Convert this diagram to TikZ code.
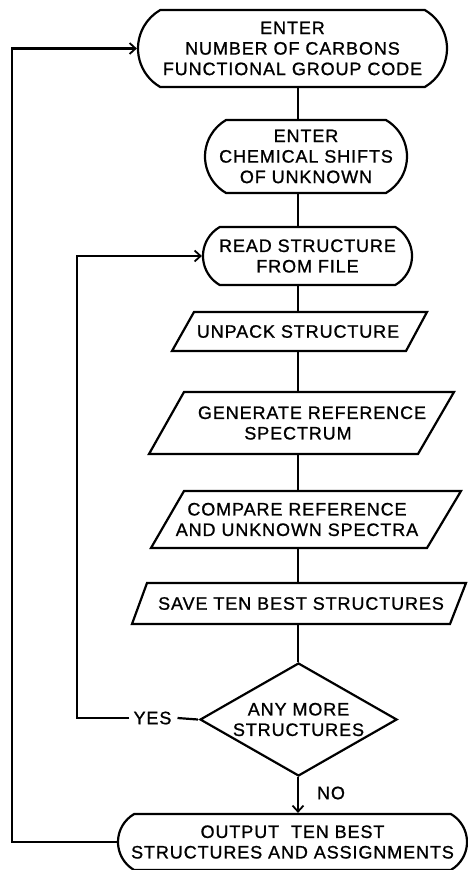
\documentclass[tikz,border=0pt]{standalone}
\usepackage{fontspec}
\setmainfont{Liberation Sans}[LetterSpace=5,FakeBold=1]
\usetikzlibrary{shapes.misc,shapes.geometric,arrows.meta,calc}
\begin{document}
\begin{tikzpicture}[x=1pt,y=-1pt,line width=2.2pt,
  every node/.style={font=\fontsize{18}{20.5}\selectfont,align=center,inner sep=0pt},
  term/.style={draw,rounded rectangle,rounded rectangle arc length=120},
  para/.style={},
  dec/.style={draw,diamond,aspect=1.74},
  arr/.style={-{Straight Barb[length=6pt,width=11pt,line width=1.8pt]}}]
\useasboundingbox (0,0) rectangle (468,870);
\coordinate (spine) at (298,0);
\coordinate (loopA) at (12,0);
\coordinate (loopB) at (77,0);
% terminals
\node[term,minimum width=309,minimum height=77] (n1) at (292.5,48.5) {ENTER\\NUMBER OF CARBONS\\FUNCTIONAL GROUP CODE};
\node[term,minimum width=202,minimum height=73] (n2) at (306,156.5) {ENTER\\CHEMICAL SHIFTS\\OF UNKNOWN};
\node[term,minimum width=209,minimum height=58] (n3) at (307.5,256) {READ STRUCTURE\\FROM FILE};
% parallelograms
\node[para,minimum height=39] (p1) at (298,331.5) {UNPACK STRUCTURE};
\draw ($(p1)+(-104,-19.5)$) -- ($(p1)+(129,-19.5)$) -- ($(p1)+(108,19.5)$) -- ($(p1)+(-126,19.5)$) -- cycle;
\node[para,minimum height=62] (p2) at (298,423) {\hspace*{28pt}GENERATE REFERENCE\\SPECTRUM};
\draw ($(p2)+(-114,-31)$) -- ($(p2)+(156,-31)$) -- ($(p2)+(120,31)$) -- ($(p2)+(-149,31)$) -- cycle;
\node[para,minimum height=57] (p3) at (297,519.5) {COMPARE REFERENCE\\AND UNKNOWN SPECTRA};
\draw ($(p3)+(-113,-28.5)$) -- ($(p3)+(164,-28.5)$) -- ($(p3)+(130,28.5)$) -- ($(p3)+(-146,28.5)$) -- cycle;
\node[para,minimum height=41] (p4) at (301,603.5) {SAVE TEN BEST STRUCTURES};
\draw ($(p4)+(-154,-20.5)$) -- ($(p4)+(165,-20.5)$) -- ($(p4)+(149,20.5)$) -- ($(p4)+(-169,20.5)$) -- cycle;
% decision
\node[dec,minimum width=197,minimum height=113] (d) at (298.5,719.5) {ANY MORE\\STRUCTURES};
\node (yes) at (152.5,718) {YES};
\node (no) at (331,793) {NO};
% output
\node[term,minimum width=349,minimum height=56] (out) at (292.5,842) {OUTPUT\hspace{6pt} TEN BEST\\STRUCTURES AND ASSIGNMENTS};
% connectors
\draw (n1.south -| spine) -- (n2.north -| spine);
\draw (n2.south -| spine) -- (n3.north -| spine);
\draw (n3.south -| spine) -- (p1.north -| spine);
\draw (p1.south -| spine) -- (p2.north -| spine);
\draw (p2.south -| spine) -- (p3.north -| spine);
\draw (p3.south -| spine) -- (p4.north -| spine);
\draw (p4.south -| spine) -- (d.north -| spine);
\draw[arr] (d.south -| spine) -- (out.north -| spine);
\draw ([xshift=-1pt]d.west) -- ([xshift=5pt]yes.east);
\draw[arr] ([xshift=-3pt]yes.west) -- (yes.west -| loopB) |- (n3.west);
\draw[arr] (out.west) -- (out.west -| loopA) |- (n1.west);
\end{tikzpicture}
\end{document}
